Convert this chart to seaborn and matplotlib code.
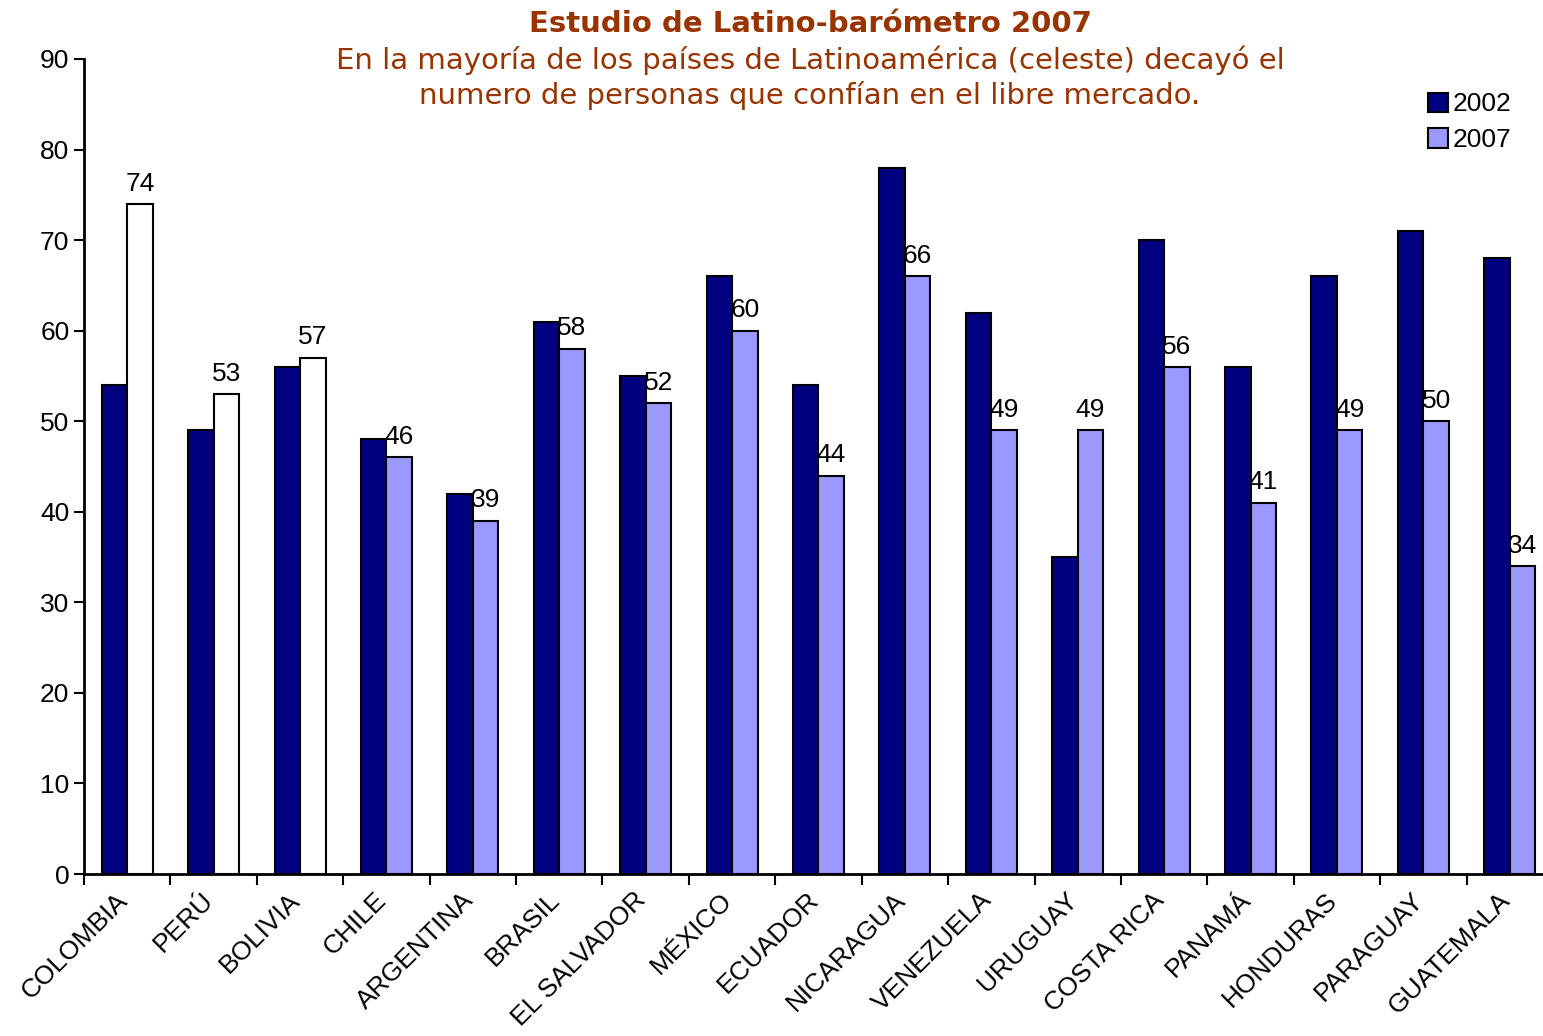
import numpy as np
import pandas as pd
import seaborn as sns
import matplotlib.pyplot as plt
import matplotlib.transforms as mtransforms
from matplotlib.patches import Patch

paises = ["COLOMBIA", "PERÚ", "BOLIVIA", "CHILE", "ARGENTINA", "BRASIL",
          "EL SALVADOR", "MÉXICO", "ECUADOR", "NICARAGUA", "VENEZUELA",
          "URUGUAY", "COSTA RICA", "PANAMÁ", "HONDURAS", "PARAGUAY", "GUATEMALA"]
v2002 = [54, 49, 56, 48, 42, 61, 55, 66, 54, 78, 62, 35, 70, 56, 66, 71, 68]
v2007 = [74, 53, 57, 46, 39, 58, 52, 60, 44, 66, 49, 49, 56, 41, 49, 50, 34]
anios = ["2002", "2007"]

df = pd.DataFrame({
    "pais": paises * 2,
    "valor": v2002 + v2007,
    "anio": [anios[0]] * len(paises) + [anios[1]] * len(paises),
})

sns.set_style("white")
plt.rcParams["font.family"] = ["Liberation Sans", "DejaVu Sans"]
plt.rcParams["text.color"] = "black"
plt.rcParams["xtick.color"] = "black"
plt.rcParams["ytick.color"] = "black"

navy = "#000080"
lila = "#9999FF"

fig = plt.figure(figsize=(15.43, 10.36), dpi=100)
ax = fig.add_axes([84 / 1543, 162 / 1036, 1469 / 1543, 815 / 1036])

sns.barplot(data=df, x="pais", y="valor", hue="anio", order=paises,
            hue_order=anios, palette=[navy, lila], width=0.59,
            edgecolor="black", linewidth=1.5, saturation=1, legend=False, ax=ax)

# los tres primeros paises (subida) en blanco
for p in ax.containers[1].patches[:3]:
    p.set_facecolor("white")

ax.bar_label(ax.containers[1], labels=[str(v) for v in v2007],
             padding=6, fontsize=19, color="black")

ax.set_ylim(0, 90)
ax.set_xlim(-0.5, len(paises) - 0.5)
ax.set_yticks(np.arange(0, 91, 10))
ax.tick_params(axis="y", labelsize=19, length=7, width=1.5, direction="out", left=True)

# etiquetas en el centro, marcas entre grupos
ax.set_xticks(np.arange(len(paises)))
ax.set_xticklabels(paises, rotation=45, ha="right", rotation_mode="anchor", fontsize=19)
ax.tick_params(axis="x", which="major", length=0, pad=10)
ax.set_xticks(np.arange(len(paises)) - 0.5, minor=True)
ax.tick_params(axis="x", which="minor", length=8, width=1.5, direction="out", bottom=True)
shift = mtransforms.ScaledTranslation(-12 / 100, 0, fig.dpi_scale_trans)
for lbl in ax.get_xticklabels():
    lbl.set_transform(lbl.get_transform() + shift)

sns.despine(ax=ax, top=True, right=True)
ax.spines["left"].set_linewidth(2)
ax.spines["bottom"].set_linewidth(2)
ax.spines["left"].set_color("black")
ax.spines["bottom"].set_color("black")
ax.set_xlabel("")
ax.set_ylabel("")

handles = [Patch(facecolor=navy, edgecolor="black", linewidth=1.5),
           Patch(facecolor=lila, edgecolor="black", linewidth=1.5)]
ax.legend(handles, anios, loc="upper left", bbox_to_anchor=(1410 / 1543, 1 - 74 / 1036),
          bbox_transform=fig.transFigure, frameon=False, fontsize=19,
          handlelength=0.75, handleheight=0.75, handletextpad=0.15, labelspacing=0.45,
          borderpad=0.2)

fig.text(0.525, 1 - 24 / 1036, "Estudio de Latino-barómetro 2007", ha="center", va="center",
         fontsize=21, fontweight="bold", color="#993300", family="DejaVu Sans")
fig.text(0.525, 1 - 78 / 1036,
         "En la mayoría de los países de Latinoamérica (celeste) decayó el\n"
         "numero de personas que confían en el libre mercado.",
         ha="center", va="center", fontsize=21, color="#993300", family="DejaVu Sans",
         linespacing=1.25)

fig.savefig("out.png", dpi=100)
